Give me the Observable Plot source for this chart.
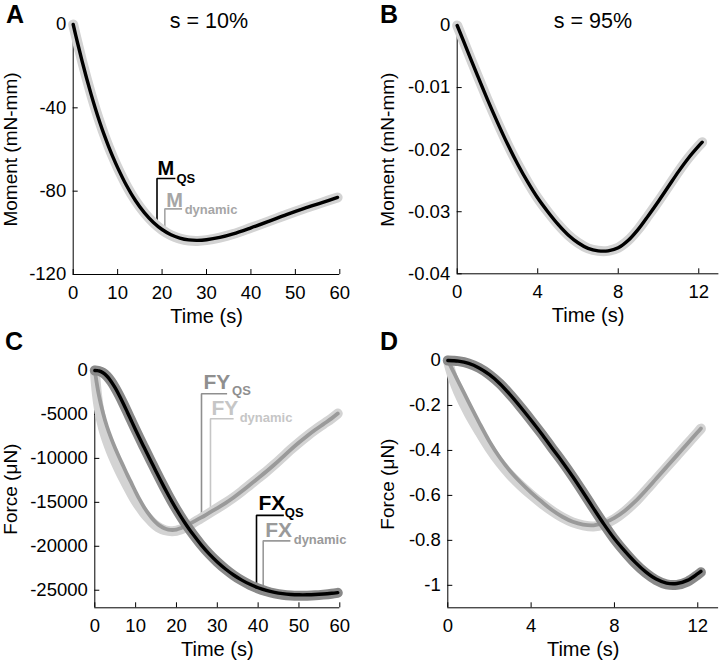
<!DOCTYPE html>
<html><head><meta charset="utf-8">
<script src="https://cdn.jsdelivr.net/npm/d3@7"></script>
<script src="https://cdn.jsdelivr.net/npm/@observablehq/plot@0.6"></script>
<style>
body{margin:0;background:#fff;}
#wrap{position:relative;width:720px;height:661px;overflow:hidden;}
#wrap svg{position:absolute;left:0;top:0;}
</style></head><body><div id="wrap"></div>
<script>
// ---------- Panel A: s = 10%, moment ----------
const tA = [0,1,2,3,4,5,6,7,8,9,10,12,14,16,18,20,22,24,26,28,30,33,36,40,44,48,52,56,59.5];
const MA_qs  = [0,-9,-17.6,-25.7,-33.3,-40.4,-47,-53.1,-58.7,-63.9,-68.7,-77.3,-84.5,-90.3,-94.9,-98.4,-100.9,-102.5,-103.4,-103.6,-103.3,-102.2,-100.5,-97.6,-94.5,-91.3,-88.3,-85.5,-83];
const MA_dyn = [0,-9,-17.6,-25.7,-33.3,-40.4,-47,-53.1,-58.7,-63.9,-68.7,-77.3,-84.5,-90.3,-95,-98.6,-101.2,-102.8,-103.7,-103.9,-103.5,-102.3,-100.6,-97.6,-94.5,-91.3,-88.3,-85.5,-83];

// ---------- Panel B: s = 95%, moment ----------
const tB = [0,0.5,1,1.5,2,2.5,3,3.5,4,4.5,5,5.5,6,6.5,7,7.5,8,8.5,9,9.5,10,10.5,11,11.5,12,12.17];
const MB_qs  = [0,-0.004,-0.008,-0.0119,-0.0156,-0.0191,-0.0223,-0.0252,-0.0278,-0.03,-0.032,-0.0337,-0.035,-0.0359,-0.0363,-0.0363,-0.0358,-0.0346,-0.0328,-0.0306,-0.0283,-0.0259,-0.0235,-0.0213,-0.0194,-0.0188];
const MB_dyn = [0,-0.004,-0.008,-0.0119,-0.0156,-0.0191,-0.0223,-0.0252,-0.0278,-0.03,-0.032,-0.0337,-0.035,-0.0359,-0.0363,-0.0363,-0.0358,-0.0346,-0.0328,-0.0306,-0.0283,-0.0259,-0.0235,-0.0213,-0.0194,-0.0188];

// ---------- Panel C: s = 10%, forces ----------
const tC = [0,0.5,1,2,3,4,5,6,7,8,9,10,11,12,13,14,15,16,17,18,19,20,21,22,23,24,26,28,30,32,34,36,38,40,42,44,46,48,50,52,54,56,58,59.5];
const FXC_qs  = [0,-15,-50,-260,-660,-1240,-1980,-2840,-3780,-4770,-5770,-6760,-7730,-8680,-9620,-10550,-11480,-12400,-13300,-14170,-15010,-15810,-16570,-17290,-17970,-18610,-19810,-20870,-21790,-22590,-23270,-23850,-24330,-24720,-25020,-25240,-25390,-25480,-25520,-25520,-25490,-25430,-25350,-25280];
const FXC_dyn = [0,-15,-50,-260,-660,-1240,-1980,-2840,-3780,-4770,-5770,-6760,-7730,-8680,-9620,-10550,-11480,-12400,-13300,-14170,-15010,-15810,-16570,-17290,-17970,-18610,-19810,-20870,-21790,-22600,-23300,-23900,-24400,-24800,-25110,-25350,-25510,-25600,-25630,-25620,-25580,-25500,-25400,-25300];
const FYC_qs  = [0,-1500,-2800,-4800,-6400,-7700,-8850,-9900,-10900,-11900,-12850,-13800,-14700,-15500,-16200,-16800,-17300,-17680,-17950,-18100,-18150,-18100,-17950,-17750,-17500,-17250,-16750,-16200,-15650,-15080,-14450,-13750,-13000,-12250,-11500,-10700,-9850,-9000,-8200,-7450,-6750,-6100,-5450,-4900];
const FYC_dyn = [0,-2600,-4300,-6500,-8000,-9250,-10350,-11350,-12300,-13200,-14050,-14850,-15550,-16200,-16750,-17250,-17650,-17950,-18150,-18250,-18280,-18230,-18100,-17900,-17650,-17380,-16800,-16230,-15660,-15080,-14450,-13750,-13000,-12250,-11500,-10700,-9850,-9000,-8200,-7450,-6750,-6100,-5450,-4900];

// ---------- Panel D: s = 95%, forces ----------
const tD = [0,0.25,0.5,1,1.5,2,2.5,3,3.5,4,4.5,5,5.5,6,6.5,7,7.5,8,8.5,9,9.5,10,10.5,11,11.5,12,12.15];
const FXD_qs  = [0,-0.001,-0.003,-0.013,-0.033,-0.063,-0.103,-0.153,-0.208,-0.266,-0.326,-0.389,-0.451,-0.517,-0.587,-0.659,-0.729,-0.793,-0.848,-0.898,-0.94,-0.972,-0.99,-0.992,-0.978,-0.948,-0.938];
const FXD_dyn = [0,-0.001,-0.003,-0.013,-0.033,-0.063,-0.103,-0.153,-0.208,-0.266,-0.326,-0.389,-0.451,-0.517,-0.587,-0.659,-0.729,-0.795,-0.852,-0.903,-0.945,-0.977,-0.996,-0.998,-0.984,-0.953,-0.942];
const FYD_qs  = [0,-0.046,-0.0925,-0.185,-0.275,-0.36,-0.4325,-0.4925,-0.5425,-0.5875,-0.6275,-0.665,-0.695,-0.7175,-0.73,-0.733,-0.722,-0.7,-0.668,-0.627,-0.578,-0.526,-0.474,-0.422,-0.37,-0.318,-0.302];
const FYD_dyn = [0,-0.08,-0.14,-0.235,-0.315,-0.39,-0.455,-0.51,-0.556,-0.597,-0.635,-0.669,-0.698,-0.72,-0.733,-0.738,-0.728,-0.705,-0.671,-0.629,-0.579,-0.527,-0.475,-0.423,-0.371,-0.319,-0.303];

// ---------- Axis ticks and labels ----------
const ticksA_x = [0,10,20,30,40,50,60], ticksA_y = [-120,-80,-40,0];
const ticksB_x = [0,4,8,12],             ticksB_y = [-0.04,-0.03,-0.02,-0.01,0];
const ticksC_x = [0,10,20,30,40,50,60], ticksC_y = [-25000,-20000,-15000,-10000,-5000,0];
const ticksD_x = [0,4,8,12],             ticksD_y = [-1,-0.8,-0.6,-0.4,-0.2,0];
const labelTime = "Time (s)", labelMoment = "Moment (mN-mm)", labelForce = "Force (μN)";
const panelLetters = ["A","B","C","D"];
const panelTitles = ["s = 10%","s = 95%"];

// annotation labels (data coordinates of the bracket corner)
const annA = [
  {key:"mq", main:"M",  sub:"QS",      t:18.86, top:-73.9, end:23.0,  ts:tA, vs:MA_qs},
  {key:"md", main:"M",  sub:"dynamic", t:20.62, top:-88.5, end:24.5,  ts:tA, vs:MA_dyn}
];
const annC = [
  {key:"yq", main:"FY", sub:"QS",      t:26.13, top:-2650,  end:32.4,  ts:tC, vs:FYC_qs},
  {key:"yd", main:"FY", sub:"dynamic", t:28.33, top:-5490,  end:34.0,  ts:tC, vs:FYC_dyn},
  {key:"xq", main:"FX", sub:"QS",      t:39.6,  top:-16480, end:46.3,  ts:tC, vs:FXC_qs},
  {key:"xd", main:"FX", sub:"dynamic", t:41.24, top:-19380, end:47.9,  ts:tC, vs:FXC_dyn}
];

// ---------- styles ----------
const FONT = '"Liberation Sans", Arial, Helvetica, sans-serif';
const annStyle = {
  mq:{color:"#000",    size:20, subSize:13, dx:0.5, dy:-3,   sdx:1,   sdy:4.7},
  md:{color:"#a6a6a6", size:20, subSize:13, dx:1.4, dy:-2.3, sdx:2.6, sdy:5},
  yq:{color:"#8f8f8f", size:21, subSize:13, dx:2,   dy:-5,   sdx:5,   sdy:1.7},
  yd:{color:"#c6c6c6", size:21, subSize:13, dx:1,   dy:-4,   sdx:6,   sdy:3.4},
  xq:{color:"#000",    size:21, subSize:13, dx:2,   dy:-5,   sdx:1,   sdy:1.7},
  xd:{color:"#9a9a9a", size:21, subSize:13, dx:2,   dy:-4,   sdx:3.3, sdy:3.5}
};

function valueAt(ts, vs, t){
  let i = d3.bisectRight(ts, t) - 1; i = Math.max(0, Math.min(i, ts.length-2));
  const f = (t - ts[i]) / (ts[i+1] - ts[i]);
  return vs[i] + f * (vs[i+1] - vs[i]);
}

function annotationMarks(list){
  const marks = [];
  for (const a of list){
    const s = annStyle[a.key];
    const pts = [[a.t, valueAt(a.ts, a.vs, a.t)], [a.t, a.top], [a.end, a.top]];
    marks.push(Plot.line(pts, {x:d=>d[0], y:d=>d[1], stroke:s.color, strokeWidth:1.6, strokeLinecap:"butt", strokeLinejoin:"miter", curve:"linear"}));
    marks.push(Plot.text([a], {x:"t", y:"top", text:"main", dx:s.dx, dy:s.dy, textAnchor:"start", lineAnchor:"bottom", fontSize:s.size, fontWeight:"bold", fill:s.color}));
    marks.push(Plot.text([a], {x:"end", y:"top", text:"sub", dx:s.sdx, dy:s.sdy, textAnchor:"start", lineAnchor:"bottom", fontSize:s.subSize, fontWeight:"bold", fill:s.color}));
  }
  return marks;
}

function panel(cfg){
  const {xDomain:[x0,x1], yDomain:[y0,y1], xTicks, yTicks, m, yLabel, yLabelDx, series, annots} = cfg;
  const marks = [
    Plot.ruleX([x0], {y1:y0, y2:y1, stroke:"#000", strokeWidth:1}),
    Plot.ruleY([y0], {x1:x0, x2:x1, stroke:"#000", strokeWidth:1}),
    Plot.ruleX(xTicks, {x:d=>d, y1:y0, y2:y0, insetTop:-5, stroke:"#000", strokeWidth:1}),
    Plot.ruleY(yTicks, {y:d=>d, x1:x0, x2:x0, insetRight:-5, stroke:"#000", strokeWidth:1}),
    Plot.axisX({ticks:xTicks, tickSize:0, tickPadding:11, tickFormat:d=>String(d), label:null, fontSize:18.5}),
    Plot.axisY({ticks:yTicks, tickSize:0, tickPadding:7, tickFormat:d=>String(d), label:null, fontSize:18.5}),
    Plot.text([labelTime], {text:d=>d, frameAnchor:"bottom", dy:48, lineAnchor:"bottom", textAnchor:"middle", fontSize:20}),
    Plot.text([yLabel], {text:d=>d, frameAnchor:"left", dx:yLabelDx, rotate:-90, lineAnchor:"bottom", textAnchor:"middle", fontSize:19}),
    ...(annots ? annotationMarks(annots) : [])
  ];
  for (const s of series){
    marks.push(Plot.line(s.ts, {x:s.ts, y:s.vs, stroke:s.color, strokeWidth:s.w, curve:"catmull-rom", strokeLinecap:"round", strokeLinejoin:"round"}));
  }
  return Plot.plot({
    width:720, height:661,
    marginLeft:m[0], marginRight:m[1], marginTop:m[2], marginBottom:m[3],
    x:{domain:[x0,x1]}, y:{domain:[y0,y1]},
    style:{fontFamily:FONT, fontSize:"18px", background:"transparent", overflow:"visible", color:"#000"},
    marks
  });
}

const LIGHT = "#d3d3d3", MID = "#9a9a9a", DARK = "#898989";
const wrap = document.getElementById("wrap");

wrap.append(panel({
  xDomain:[0,60], yDomain:[-120,0], xTicks:ticksA_x, yTicks:ticksA_y,
  m:[72.7, 380.7, 24, 387], yLabel:labelMoment, yLabelDx:-56, annots:annA,
  series:[{ts:tA, vs:MA_dyn, color:LIGHT, w:10},{ts:tA, vs:MA_qs, color:"#000", w:3.4}]
}));
wrap.append(panel({
  xDomain:[0,13], yDomain:[-0.04,0], xTicks:ticksB_x, yTicks:ticksB_y,
  m:[456.7, 1.6, 25, 387.7], yLabel:labelMoment, yLabelDx:-63.7,
  series:[{ts:tB, vs:MB_dyn, color:LIGHT, w:10},{ts:tB, vs:MB_qs, color:"#000", w:3.4}]
}));
wrap.append(panel({
  xDomain:[0,60], yDomain:[-27000,0], xTicks:ticksC_x, yTicks:ticksC_y,
  m:[94.3, 380.7, 370, 53.7], yLabel:labelForce, yLabelDx:-77.6, annots:annC,
  series:[{ts:tC, vs:FYC_dyn, color:LIGHT, w:10},{ts:tC, vs:FYC_qs, color:MID, w:3.8},
          {ts:tC, vs:FXC_dyn, color:DARK, w:10},{ts:tC, vs:FXC_qs, color:"#000", w:3.4}]
}));
wrap.append(panel({
  xDomain:[0,13], yDomain:[-1.1,0], xTicks:ticksD_x, yTicks:ticksD_y,
  m:[447.3, 1.9, 360, 53.7], yLabel:labelForce, yLabelDx:-54.3,
  series:[{ts:tD, vs:FYD_dyn, color:LIGHT, w:10},{ts:tD, vs:FYD_qs, color:MID, w:3.8},
          {ts:tD, vs:FXD_dyn, color:DARK, w:10},{ts:tD, vs:FXD_qs, color:"#000", w:3.4}]
}));

// panel letters and titles
const ov = d3.select(wrap).append("svg").attr("width",720).attr("height",661)
  .style("font-family", FONT).style("pointer-events","none");
const letterPos = [[6,23],[380,23],[5,350],[380,350]];
panelLetters.forEach((L,i)=>ov.append("text").attr("x",letterPos[i][0]).attr("y",letterPos[i][1])
  .attr("font-size",25).attr("font-weight","bold").text(L));
const titlePos = [[209,28],[593,28]];
panelTitles.forEach((T,i)=>ov.append("text").attr("x",titlePos[i][0]).attr("y",titlePos[i][1])
  .attr("font-size",21.5).attr("text-anchor","middle").text(T));
</script></body></html>
